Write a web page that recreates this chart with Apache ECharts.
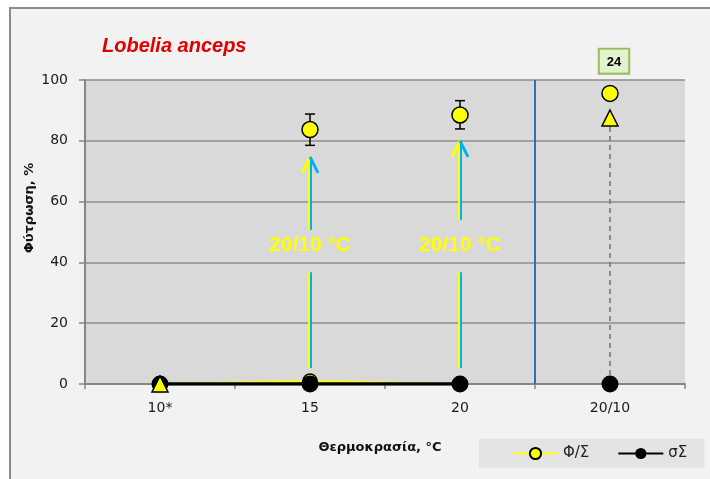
<!DOCTYPE html>
<html>
<head>
<meta charset="utf-8">
<script src="https://cdn.jsdelivr.net/npm/echarts@6/dist/echarts.min.js"></script>
<style>html,body{margin:0;padding:0;background:#fff;}#c{width:710px;height:479px;}</style>
</head>
<body>
<div id="c"></div>
<script>
// ---- data ----
var categories = ['10*', '15', '20', '20/10'];
var yTicks = [0, 20, 40, 60, 80, 100];
var germConst = [0, 1, 0, null];             // Φ/Σ at constant temperature
var totalConst = [0, 0, 0, null];            // σΣ at constant temperature
var totalAlt = [null, null, null, 0];        // σΣ at 20/10
var germAfter = [null, 83.7, 88.5, 95.6];    // Φ/Σ after transfer / at 20/10
var errLow = [null, 78.5, 83.9, null];
var errHigh = [null, 88.8, 93.2, null];
var triangles = [0, null, null, 87.5];
var sampleLabels = [null, null, null, '24'];
var arrowCats = [1, 2];
var arrowLowStart = [5.3, 5.3];
var arrowLowEnd = [36.8, 36.8];
var arrowUpStart = [50.7, 54];
var arrowUpTip = [74.7, 80];
var arrowText = ['20/10 °C', '20/10 °C'];
var arrowTextY = [45.7, 45.7];

var FONT = 'Liberation Sans';
var FONT2 = 'DejaVu Sans';
var chart = echarts.init(document.getElementById('c'), null, {renderer: 'canvas'});

function pair(arr) { return arr.map(function (v, i) { return v == null ? null : [i, v]; }).filter(Boolean); }

var errData = [];
for (var i = 0; i < categories.length; i++) if (errLow[i] != null) errData.push([i, errLow[i], errHigh[i]]);
var arrowData = arrowCats.map(function (c, i) { return [c, arrowLowStart[i], arrowLowEnd[i], arrowUpStart[i], arrowUpTip[i], arrowTextY[i], i]; });
var dashData = [];
for (var j = 0; j < categories.length; j++) if (totalAlt[j] != null && triangles[j] != null) dashData.push([j, totalAlt[j], triangles[j]]);

var afterData = germAfter.map(function (v, i) {
  if (v == null) return null;
  var d = {value: [i, v]};
  if (sampleLabels[i]) {
    d.label = {show: true, formatter: sampleLabels[i], position: 'top', distance: 12,
      backgroundColor: '#e4f3cf', borderColor: '#9bbb59', borderWidth: 2, padding: [6, 7, 4, 7],
      color: '#000', fontWeight: 'bold', fontSize: 13, fontFamily: FONT, offset: [4, 0]};
  }
  return d;
}).filter(Boolean);

var option = {
  animation: false,
  backgroundColor: '#ffffff',
  graphic: [
    {type: 'rect', z: -100, shape: {x: 10, y: 8, width: 720, height: 500},
     style: {fill: '#f2f2f2', stroke: '#8c8c8c', lineWidth: 2}},
    {type: 'text', left: 102, top: 36, style: {text: 'Lobelia anceps', fill: '#e00000',
      font: 'italic bold 20px ' + FONT}},
    {type: 'text', x: 30, y: 208, rotation: Math.PI / 2, style: {text: 'Φύτρωση, %', fill: '#111',
      font: 'bold 13px ' + FONT2, align: 'center', verticalAlign: 'middle'}},
    {type: 'text', x: 380, y: 448, style: {text: 'Θερμοκρασία, °C', fill: '#111',
      font: 'bold 13px ' + FONT2, align: 'center', verticalAlign: 'middle'}}
  ],
  grid: {left: 85, right: 25, top: 80, bottom: 95, show: true, backgroundColor: '#d9d9d9', borderWidth: 0},
  legend: {
    left: 479, top: 439, padding: [7, 17, 7, 33], itemGap: 28, itemWidth: 45, itemHeight: 14,
    backgroundColor: '#e4e4e4',
    data: ['Φ/Σ', 'σΣ'],
    textStyle: {fontFamily: FONT2, fontSize: 15, color: '#222'}
  },
  xAxis: {
    type: 'category', data: categories, boundaryGap: true,
    axisLine: {lineStyle: {color: '#868686', width: 2}},
    axisTick: {show: true, alignWithLabel: false, length: 5, lineStyle: {color: '#868686', width: 1.5}},
    axisLabel: {fontFamily: FONT2, fontSize: 14, color: '#1a1a1a', margin: 17},
    splitLine: {show: false}
  },
  yAxis: {
    type: 'value', min: 0, max: 100, interval: 20,
    axisLine: {show: true, lineStyle: {color: '#868686', width: 2}},
    axisTick: {show: true, length: 6, lineStyle: {color: '#868686', width: 1.5}},
    axisLabel: {fontFamily: FONT2, fontSize: 14, color: '#1a1a1a', margin: 17,
      formatter: function (v) { return yTicks.indexOf(v) >= 0 ? String(v) : ''; }},
    splitLine: {lineStyle: {color: '#8c8c8c', width: 1.5}}
  },
  series: [
    { // blue separator
      type: 'custom', name: 'sep', z: 1, silent: true, data: [[2, 3]],
      renderItem: function (params, api) {
        var a = api.coord([api.value(0), 0]), b = api.coord([api.value(1), 100]);
        var x = Math.round((a[0] + b[0]) / 2);
        return {type: 'line', shape: {x1: x, y1: b[1], x2: x, y2: a[1]}, style: {stroke: '#2f6fc0', lineWidth: 2}};
      }
    },
    { // dashed drop line
      type: 'custom', name: 'dash', z: 1, silent: true, data: dashData,
      renderItem: function (params, api) {
        var a = api.coord([api.value(0), api.value(1)]), b = api.coord([api.value(0), api.value(2)]);
        return {type: 'line', shape: {x1: a[0], y1: a[1], x2: b[0], y2: b[1] + 8},
          style: {stroke: '#707070', lineWidth: 1.5, lineDash: [5, 4]}};
      }
    },
    { // arrows + labels
      type: 'custom', name: 'arrows', z: 2, silent: true, data: arrowData,
      renderItem: function (params, api) {
        var c = api.value(0);
        var l0 = api.coord([c, api.value(1)]), l1 = api.coord([c, api.value(2)]);
        var u0 = api.coord([c, api.value(3)]), u1 = api.coord([c, api.value(4)]);
        var t = api.coord([c, api.value(5)]);
        var x = l0[0];
        var Y = '#ffff00', B = '#00b0f0';
        return {type: 'group', children: [
          {type: 'line', shape: {x1: x - 1, y1: l0[1], x2: x - 1, y2: l1[1]}, style: {stroke: Y, lineWidth: 2}},
          {type: 'line', shape: {x1: x + 1, y1: l0[1], x2: x + 1, y2: l1[1]}, style: {stroke: B, lineWidth: 2}},
          {type: 'line', shape: {x1: x - 1, y1: u0[1], x2: x - 1, y2: u1[1]}, style: {stroke: Y, lineWidth: 2}},
          {type: 'line', shape: {x1: x + 1, y1: u0[1], x2: x + 1, y2: u1[1]}, style: {stroke: B, lineWidth: 2}},
          {type: 'line', shape: {x1: x, y1: u1[1], x2: x - 8, y2: u1[1] + 16}, style: {stroke: Y, lineWidth: 3}},
          {type: 'line', shape: {x1: x, y1: u1[1], x2: x + 8, y2: u1[1] + 16}, style: {stroke: B, lineWidth: 3}},
          {type: 'text', x: x, y: t[1], style: {text: arrowText[api.value(6)], fill: '#ffff00',
            font: 'bold 21px ' + FONT, align: 'center', verticalAlign: 'middle'}}
        ]};
      }
    },
    {
      type: 'line', name: 'Φ/Σ', z: 3, data: germConst, connectNulls: false,
      lineStyle: {color: '#ffff00', width: 2},
      symbol: 'circle', symbolSize: 14,
      itemStyle: {color: '#ffff00', borderColor: '#000', borderWidth: 1.5}
    },
    {
      type: 'line', name: 'σΣ', z: 4, data: totalConst, connectNulls: false,
      lineStyle: {color: '#000', width: 3.5},
      symbol: 'circle', symbolSize: 17,
      itemStyle: {color: '#000', borderColor: '#000', borderWidth: 0}
    },
    {
      type: 'scatter', name: 'σΣ alt', z: 4, data: pair(totalAlt),
      symbol: 'circle', symbolSize: 17, itemStyle: {color: '#000', opacity: 1}
    },
    { // error bars
      type: 'custom', name: 'err', z: 4, silent: true, data: errData,
      renderItem: function (params, api) {
        var lo = api.coord([api.value(0), api.value(1)]), hi = api.coord([api.value(0), api.value(2)]);
        var x = lo[0], w = 5;
        var s = {stroke: '#000', lineWidth: 1.5};
        return {type: 'group', children: [
          {type: 'line', shape: {x1: x, y1: lo[1], x2: x, y2: hi[1]}, style: s},
          {type: 'line', shape: {x1: x - w, y1: lo[1], x2: x + w, y2: lo[1]}, style: s},
          {type: 'line', shape: {x1: x - w, y1: hi[1], x2: x + w, y2: hi[1]}, style: s}
        ]};
      }
    },
    {
      type: 'scatter', name: 'after', z: 5, data: afterData,
      symbol: 'circle', symbolSize: 16,
      itemStyle: {color: '#ffff00', borderColor: '#000', borderWidth: 1.5, opacity: 1}
    },
    {
      type: 'scatter', name: 'tri', z: 6, data: pair(triangles),
      symbol: 'triangle', symbolSize: 16,
      itemStyle: {color: '#ffff00', borderColor: '#000', borderWidth: 1.5, opacity: 1}
    }
  ]
};
chart.setOption(option);
</script>
</body>
</html>
